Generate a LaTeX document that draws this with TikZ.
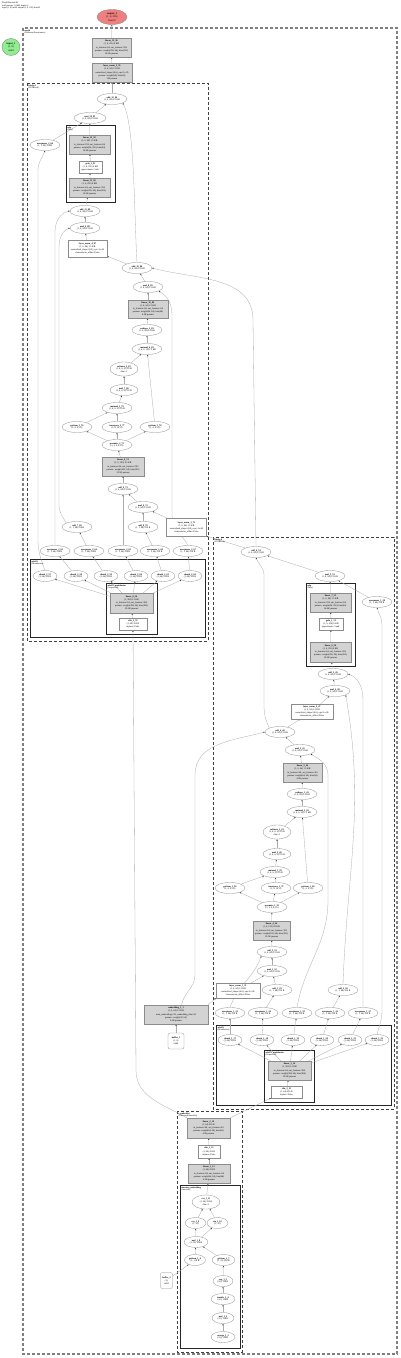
\documentclass[tikz,border=0pt]{standalone}
\usepackage{fontspec}
\setmainfont{Liberation Serif}
\usepackage{tikz}
\usetikzlibrary{arrows.meta,positioning,shapes.geometric,backgrounds}
\definecolor{clModule}{HTML}{D3D3D3}
\definecolor{clOutput}{HTML}{F08080}
\definecolor{clInput}{HTML}{90EE90}
\definecolor{clEdge}{HTML}{ABABAB}
\definecolor{clBorder}{HTML}{8C8C8C}
\tikzset{
  fn/.style={ellipse, draw=clBorder, line width=0.3pt, fill=white, align=center,
             inner sep=0pt, minimum width=30, minimum height=11, font=\fontsize{2.3}{2.8}\selectfont},
  fnthree/.style={fn, minimum height=14},
  chunkfn/.style={fn, minimum width=24},
  module/.style={rectangle, draw=clBorder, fill=clModule, line width=0.3pt, align=center,
                 inner sep=0.4pt, minimum width=41, minimum height=19, font=\fontsize{2.3}{3.1}\selectfont},
  opbox/.style={module, fill=white},
  endpoint/.style={ellipse, draw=clBorder, line width=0.4pt, align=center, inner sep=0pt,
                   font=\fontsize{2.6}{3.2}\selectfont},
  outergroup/.style={draw=gray, densely dashed, line width=1.1pt},
  blockgroup/.style={draw=black!75, densely dashed, line width=0.8pt},
  subgroup/.style={draw=black!85, line width=0.5pt},
  grouplabel/.style={anchor=north west, align=left, inner sep=0.4pt, font=\fontsize{2.2}{2.6}\selectfont},
  flow/.style={-{Stealth[length=1.7pt,width=1.3pt,color=black!80]}, draw=clEdge, line width=0.3pt},
}
\begin{document}
\begin{tikzpicture}[x=1pt, y=-1pt]
  \useasboundingbox (0,0) rectangle (400,1358);
  \node[grouplabel] (title) at (1.5,1.5) {TinyDiffusionLM\\total params: 0.14M, depth=2\\input (1, 6) int64, output (1, 6, 256) float32};

  \node[endpoint, fill=clOutput, minimum width=30, minimum height=15] (out) at (112,17) {\textbf{output\_1}\\(1, 6, 256)\\float32};
  \node[endpoint, fill=clInput, minimum width=18, minimum height=17] (inp) at (11,47) {\textbf{input\_1}\\(1, 6)\\int64};
  \node[module, minimum width=39] (head) at (111.5,47.5) {\textbf{linear\_13\_96}\\(1, 6, 256) 6 KB\\in\_features=64, out\_features=256\\params: weight(256, 64), bias(256)\\16.6K params};
  \node[module, minimum width=40] (headnorm) at (112,72.5) {\textbf{layer\_norm\_5\_95}\\(1, 6, 64) 1.5 KB\\normalized\_shape=(64,), eps=1e-05\\params: weight(64), bias(64)\\128 params};
  \node[grouplabel] (lblModel) at (24,29) {\textbf{model}\\(DiffusionTransformer)};

  % blocks.1
  \node[grouplabel] (lblU) at (28,84) {\textbf{blocks.1}\\(DiTBlock)};
  \node[fn] (uAdd) at (112,99) {\textbf{add\_12\_94}\\(1, 6, 64) 1.5 KB};
  \node[fn, minimum width=32] (uMulG) at (90,118) {\textbf{mul\_10\_93}\\(1, 6, 64) 1.5 KB};
  \node[fn] (uUnsG) at (45,145) {\textbf{unsqueeze\_2\_68}\\(1, 1, 64) 256 B};
  \node[grouplabel] (lblUMlp) at (67,126) {\textbf{mlp}\\(Mlp)};
  \node[module] (uFc2) at (89.5,144.5) {\textbf{linear\_12\_92}\\(1, 6, 64) 1.5 KB\\in\_features=256, out\_features=64\\params: weight(64, 256), bias(64)\\16.4K params};
  \node[opbox, minimum width=23, minimum height=12] (uGelu) at (90.5,167) {\textbf{gelu\_2\_91}\\(1, 6, 256) 6 KB\\approximate='tanh'};
  \node[module] (uFc1) at (89.5,187.5) {\textbf{linear\_11\_90}\\(1, 6, 256) 6 KB\\in\_features=64, out\_features=256\\params: weight(256, 64), bias(256)\\16.6K params};
  \node[fn] (uAddM2) at (85,211) {\textbf{add\_11\_89}\\(1, 6, 64) 1.5 KB};
  \node[fn] (uMulM2) at (85,228) {\textbf{mul\_9\_88}\\(1, 6, 64) 1.5 KB};
  \node[opbox, minimum width=39, minimum height=17] (uNorm2) at (87.5,248.5) {\textbf{layer\_norm\_4\_87}\\(1, 6, 64) 1.5 KB\\normalized\_shape=(64,), eps=1e-06\\elementwise\_affine=False};
  \node[fn] (uAddR) at (137,268) {\textbf{add\_10\_86}\\(1, 6, 64) 1.5 KB};
  \node[fn] (uMulG1) at (148,287) {\textbf{mul\_8\_85}\\(1, 6, 64) 1.5 KB};
  \node[module, minimum width=40, minimum height=18] (uProj) at (148,309) {\textbf{linear\_10\_84}\\(1, 6, 64) 1.5 KB\\in\_features=64, out\_features=64\\params: weight(64, 64), bias(64)\\4.2K params};
  \node[fn] (uReshape) at (147,330) {\textbf{reshape\_2\_83}\\(1, 6, 64) 1.5 KB};
  \node[fn] (uMatmul2) at (147,349) {\textbf{matmul\_4\_82}\\(1, 4, 6, 16) 1.5 KB};
  \node[fnthree, minimum width=28] (uSoftmax) at (124,369) {\textbf{softmax\_2\_81}\\(1, 4, 6, 6) 576 B\\dim=-1};
  \node[fn, minimum width=28] (uScale) at (124,390) {\textbf{mul\_7\_80}\\(1, 4, 6, 6) 576 B};
  \node[fn] (uMatmul) at (117,408) {\textbf{matmul\_3\_79}\\(1, 4, 6, 6) 576 B};
  \node[fn] (uQ) at (77,427) {\textbf{getitem\_2\_76}\\(1, 4, 6, 16)};
  \node[fn] (uK) at (117,427) {\textbf{transpose\_2\_77}\\(1, 4, 16, 6)};
  \node[fn] (uV) at (155,427) {\textbf{getitem\_2\_78}\\(1, 4, 6, 16)};
  \node[fn] (uPerm) at (117,445) {\textbf{permute\_2\_75}\\(3, 1, 4, 6, 16)};
  \node[module, minimum width=42] (uQkv) at (123,466.5) {\textbf{linear\_9\_74}\\(1, 6, 192) 4.5 KB\\in\_features=64, out\_features=192\\params: weight(192, 64), bias(192)\\12.5K params};
  \node[fn] (uAddM1) at (123,489) {\textbf{add\_9\_73}\\(1, 6, 64) 1.5 KB};
  \node[fn] (uMulM1) at (143,507) {\textbf{mul\_6\_72}\\(1, 6, 64) 1.5 KB};
  \node[fn] (uAddS2) at (77,527) {\textbf{add\_7\_69}\\(1, 1, 64) 256 B};
  \node[fn] (uAddS1) at (143,527) {\textbf{add\_8\_70}\\(1, 1, 64) 256 B};
  \node[opbox, minimum width=40, minimum height=18] (uNorm1) at (186.5,527) {\textbf{layer\_norm\_3\_71}\\(1, 6, 64) 1.5 KB\\normalized\_shape=(64,), eps=1e-06\\elementwise\_affine=False};
  \node[fn] (uU1) at (55,551) {\textbf{unsqueeze\_2\_63}\\(1, 1, 64) 256 B};
  \node[fn] (uU2) at (89,551) {\textbf{unsqueeze\_2\_64}\\(1, 1, 64) 256 B};
  \node[fn] (uU3) at (123,551) {\textbf{unsqueeze\_2\_65}\\(1, 1, 64) 256 B};
  \node[fn] (uU4) at (155,551) {\textbf{unsqueeze\_2\_66}\\(1, 1, 64) 256 B};
  \node[fn] (uU5) at (188,551) {\textbf{unsqueeze\_2\_67}\\(1, 1, 64) 256 B};
  \node[grouplabel] (lblUAda) at (31,560) {\textbf{adaLN}\\(Modulation)};
  \node[chunkfn] (uC1) at (45,576) {\textbf{chunk\_2\_57}\\(1, 64) 256 B};
  \node[chunkfn] (uC2) at (76,576) {\textbf{chunk\_2\_58}\\(1, 64) 256 B};
  \node[chunkfn] (uC3) at (106,576) {\textbf{chunk\_2\_59}\\(1, 64) 256 B};
  \node[chunkfn] (uC4) at (136,576) {\textbf{chunk\_2\_60}\\(1, 64) 256 B};
  \node[chunkfn] (uC5) at (163,576) {\textbf{chunk\_2\_61}\\(1, 64) 256 B};
  \node[chunkfn] (uC6) at (190,576) {\textbf{chunk\_2\_62}\\(1, 64) 256 B};
  \node[grouplabel] (lblUSeq) at (107,584) {\textbf{adaLN\_modulation}\\(Sequential)};
  \node[module, minimum width=43, minimum height=20] (uLin) at (131.5,603) {\textbf{linear\_8\_56}\\(1, 384) 1.5 KB\\in\_features=64, out\_features=384\\params: weight(384, 64), bias(384)\\25.0K params};
  \node[opbox, minimum width=28, minimum height=12] (uSilu) at (133,624) {\textbf{silu\_3\_55}\\(1, 64) 256 B\\inplace=False};

  % blocks.0
  \node[grouplabel] (lblL) at (214,538) {\textbf{blocks.0}\\(DiTBlock)};
  \node[fn] (lAdd) at (256,552) {\textbf{add\_6\_54}\\(1, 6, 64) 1.5 KB};
  \node[fn] (lMulG) at (330,576) {\textbf{mul\_5\_53}\\(1, 6, 64) 1.5 KB};
  \node[grouplabel] (lblLMlp) at (307,584) {\textbf{mlp}\\(Mlp)};
  \node[module] (lFc2) at (330.5,602.5) {\textbf{linear\_7\_52}\\(1, 6, 64) 1.5 KB\\in\_features=256, out\_features=64\\params: weight(64, 256), bias(64)\\16.4K params};
  \node[opbox, minimum width=24, minimum height=12] (lGelu) at (331,624) {\textbf{gelu\_1\_51}\\(1, 6, 256) 6 KB\\approximate='tanh'};
  \node[module, minimum height=20] (lFc1) at (330.5,652) {\textbf{linear\_6\_50}\\(1, 6, 256) 6 KB\\in\_features=64, out\_features=256\\params: weight(256, 64), bias(256)\\16.6K params};
  \node[fn] (lUnsG) at (377,602) {\textbf{unsqueeze\_1\_28}\\(1, 1, 64) 256 B};
  \node[fn] (lAddM2) at (333,674) {\textbf{add\_5\_49}\\(1, 6, 64) 1.5 KB};
  \node[fn] (lMulM2) at (335,691) {\textbf{mul\_4\_48}\\(1, 6, 64) 1.5 KB};
  \node[opbox, minimum width=42, minimum height=15] (lNorm2) at (312,711.5) {\textbf{layer\_norm\_2\_47}\\(1, 6, 64) 1.5 KB\\normalized\_shape=(64,), eps=1e-06\\elementwise\_affine=False};
  \node[fn] (lAddR) at (280,732) {\textbf{add\_4\_46}\\(1, 6, 64) 1.5 KB};
  \node[fn] (lMulG1) at (300,750) {\textbf{mul\_3\_45}\\(1, 6, 64) 1.5 KB};
  \node[module, minimum width=39] (lProj) at (302.5,772.5) {\textbf{linear\_5\_44}\\(1, 6, 64) 1.5 KB\\in\_features=64, out\_features=64\\params: weight(64, 64), bias(64)\\4.2K params};
  \node[fn] (lReshape) at (302,794) {\textbf{reshape\_1\_43}\\(1, 6, 64) 1.5 KB};
  \node[fn] (lMatmul2) at (302,812) {\textbf{matmul\_2\_42}\\(1, 4, 6, 16) 1.5 KB};
  \node[fnthree, minimum width=28] (lSoftmax) at (277,832) {\textbf{softmax\_1\_41}\\(1, 4, 6, 6) 576 B\\dim=-1};
  \node[fn, minimum width=28] (lScale) at (277,854) {\textbf{mul\_2\_40}\\(1, 4, 6, 6) 576 B};
  \node[fn] (lMatmul) at (275,872) {\textbf{matmul\_1\_39}\\(1, 4, 6, 6) 576 B};
  \node[fn] (lQ) at (230,888) {\textbf{getitem\_1\_36}\\(1, 4, 6, 16)};
  \node[fn] (lK) at (276,888) {\textbf{transpose\_1\_37}\\(1, 4, 16, 6)};
  \node[fn] (lV) at (308,888) {\textbf{getitem\_1\_38}\\(1, 4, 6, 16)};
  \node[fn] (lPerm) at (272,907) {\textbf{permute\_1\_35}\\(3, 1, 4, 6, 16)};
  \node[module, minimum width=37] (lQkv) at (271.5,930.5) {\textbf{linear\_4\_34}\\(1, 6, 192) 4.5 KB\\in\_features=64, out\_features=192\\params: weight(192, 64), bias(192)\\12.5K params};
  \node[fn] (lAddM1) at (272,952) {\textbf{add\_3\_33}\\(1, 6, 64) 1.5 KB};
  \node[fn] (lMulM1) at (272,971) {\textbf{mul\_1\_32}\\(1, 6, 64) 1.5 KB};
  \node[opbox, minimum width=44, minimum height=15] (lNorm1) at (238,990.5) {\textbf{layer\_norm\_1\_31}\\(1, 6, 64) 1.5 KB\\normalized\_shape=(64,), eps=1e-06\\elementwise\_affine=False};
  \node[fn] (lAddS1) at (277,990) {\textbf{add\_1\_29}\\(1, 1, 64) 256 B};
  \node[fn] (lAddS2) at (343,990) {\textbf{add\_2\_30}\\(1, 1, 64) 256 B};
  \node[fn] (lU1) at (230,1013) {\textbf{unsqueeze\_1\_23}\\(1, 1, 64) 256 B};
  \node[fn] (lU2) at (263,1013) {\textbf{unsqueeze\_1\_24}\\(1, 1, 64) 256 B};
  \node[fn] (lU3) at (297,1013) {\textbf{unsqueeze\_1\_25}\\(1, 1, 64) 256 B};
  \node[fn] (lU4) at (330,1013) {\textbf{unsqueeze\_1\_26}\\(1, 1, 64) 256 B};
  \node[fn] (lU5) at (363,1013) {\textbf{unsqueeze\_1\_27}\\(1, 1, 64) 256 B};
  \node[grouplabel] (lblLAda) at (217,1026) {\textbf{adaLN}\\(Modulation)};
  \node[chunkfn] (lC1) at (230,1040) {\textbf{chunk\_1\_17}\\(1, 64) 256 B};
  \node[chunkfn] (lC2) at (262,1040) {\textbf{chunk\_1\_18}\\(1, 64) 256 B};
  \node[chunkfn] (lC3) at (293,1040) {\textbf{chunk\_1\_19}\\(1, 64) 256 B};
  \node[chunkfn] (lC4) at (322,1040) {\textbf{chunk\_1\_20}\\(1, 64) 256 B};
  \node[chunkfn] (lC5) at (350,1040) {\textbf{chunk\_1\_21}\\(1, 64) 256 B};
  \node[chunkfn] (lC6) at (377,1040) {\textbf{chunk\_1\_22}\\(1, 64) 256 B};
  \node[grouplabel] (lblLSeq) at (265,1051) {\textbf{adaLN\_modulation}\\(Sequential)};
  \node[module, minimum width=43] (lLin) at (289.5,1070.5) {\textbf{linear\_3\_16}\\(1, 384) 1.5 KB\\in\_features=64, out\_features=384\\params: weight(384, 64), bias(384)\\25.0K params};
  \node[opbox, minimum width=31, minimum height=12] (lSilu) at (286.5,1092) {\textbf{silu\_2\_15}\\(1, 64) 256 B\\inplace=False};

  % embedding and timestep branch
  \node[module, minimum width=64] (emb) at (176,1014.5) {\textbf{embedding\_1\_1}\\(1, 6, 64) 1.5 KB\\num\_embeddings=32, embedding\_dim=64\\params: weight(32, 64)\\2.0K params};
  \node[opbox, rounded corners=2pt, minimum width=16, minimum height=16] (buf) at (176,1041) {\textbf{buffer\_1}\\(1, 6)\\int64};
  \node[grouplabel] (lblT) at (178,1112) {\textbf{t\_embedder}\\(TimestepEmbedder)};
  \node[module, minimum width=43, minimum height=20] (tLin2) at (208.5,1128) {\textbf{linear\_2\_14}\\(1, 64) 256 B\\in\_features=64, out\_features=64\\params: weight(64, 64), bias(64)\\4.2K params};
  \node[opbox, minimum width=22, minimum height=13] (tSilu) at (209,1151.5) {\textbf{silu\_1\_13}\\(1, 64) 256 B\\inplace=False};
  \node[module, minimum width=42] (tLin1) at (209,1173.5) {\textbf{linear\_1\_12}\\(1, 64) 256 B\\in\_features=64, out\_features=64\\params: weight(64, 64), bias(64)\\4.2K params};
  \node[grouplabel] (lblTSin) at (181,1186) {\textbf{timestep\_embedding}\\(function)};
  \node[fnthree, minimum width=28] (tCat) at (206,1202) {\textbf{cat\_1\_11}\\(1, 64) 256 B\\dim=-1};
  \node[fn, minimum width=21] (tCos) at (195.5,1223) {\textbf{cos\_1\_9}\\(1, 32)};
  \node[fn, minimum width=21] (tSin) at (217.5,1223) {\textbf{sin\_1\_10}\\(1, 32)};
  \node[fn, minimum width=24] (tMul) at (196,1242) {\textbf{mul\_1\_8}\\(1, 32) 128 B};
  \node[fn, minimum width=21] (tGetA) at (195,1260) {\textbf{getitem\_1\_6}\\(1, 1) 4 B};
  \node[fn, minimum width=23] (tGetB) at (223.5,1260) {\textbf{getitem\_1\_7}\\(1, 32) 128 B};
  \node[fn, minimum width=20] (tExp) at (223,1281) {\textbf{exp\_1\_5}\\(32,) 128 B};
  \node[fn, minimum width=24] (tDiv) at (223,1299) {\textbf{truediv\_1\_4}\\(32,) 128 B};
  \node[fn, minimum width=22] (tMulc) at (223,1318) {\textbf{mul\_1\_3}\\(32,) 128 B};
  \node[fn, minimum width=24] (tArange) at (223,1337) {\textbf{arange\_1\_2}\\(32,) 128 B};
  \node[opbox, rounded corners=2pt, minimum width=12, minimum height=16] (tBuf) at (166.5,1280.5) {\textbf{buffer\_2}\\(1,)\\int64};

  \begin{scope}[on background layer]
    \draw[outergroup] (23,28) rectangle (397,1354);
    \draw[blockgroup] (27,83) rectangle (208,641);
    \draw[subgroup] (66,125) rectangle (115,202);
    \draw[subgroup] (30,559) rectangle (205,637);
    \draw[subgroup] (106,583) rectangle (157,634);
    \draw[blockgroup] (213,537) rectangle (394,1109);
    \draw[subgroup] (306,583) rectangle (355,666);
    \draw[subgroup] (216,1025) rectangle (391,1105);
    \draw[subgroup] (264,1050) rectangle (314,1102);
    \draw[blockgroup] (177,1111) rectangle (242,1352);
    \draw[subgroup] (180,1185) rectangle (240,1348);

    \draw[flow] (head) -- (out); \draw[flow] (headnorm) -- (head); \draw[flow] (uAdd) -- (headnorm);
    \draw[flow] (uMulG) -- (uAdd); \draw[flow] (uUnsG) -- (uMulG); \draw[flow] (uFc2) -- (uMulG);
    \draw[flow] (uGelu) -- (uFc2); \draw[flow] (uFc1) -- (uGelu); \draw[flow] (uAddM2) -- (uFc1);
    \draw[flow] (uMulM2) -- (uAddM2); \draw[flow] (uNorm2) -- (uMulM2); \draw[flow] (uAddR) -- (uNorm2);
    \draw[flow] (uMulG1) -- (uAddR); \draw[flow] (uProj) -- (uMulG1); \draw[flow] (uReshape) -- (uProj);
    \draw[flow] (uMatmul2) -- (uReshape); \draw[flow] (uSoftmax) -- (uMatmul2); \draw[flow] (uV) -- (uMatmul2);
    \draw[flow] (uScale) -- (uSoftmax); \draw[flow] (uMatmul) -- (uScale);
    \draw[flow] (uQ) -- (uMatmul); \draw[flow] (uK) -- (uMatmul);
    \draw[flow] (uPerm) -- (uQ); \draw[flow] (uPerm) -- (uK); \draw[flow] (uPerm) -- (uV);
    \draw[flow] (uQkv) -- (uPerm); \draw[flow] (uAddM1) -- (uQkv); \draw[flow] (uMulM1) -- (uAddM1);
    \draw[flow] (uNorm1) -- (uMulM1); \draw[flow] (uAddS1) -- (uMulM1);
    \draw[flow] (uU2) -- (uAddS2); \draw[flow] (uU3) -- (uAddM1); \draw[flow] (uU4) -- (uAddS1);
    \draw[flow] (uC2) -- (uU1); \draw[flow] (uC3) -- (uU2); \draw[flow] (uC4) -- (uU3);
    \draw[flow] (uC5) -- (uU4); \draw[flow] (uC6) -- (uU5);
    \foreach \c in {uC1,uC2,uC3,uC4,uC5,uC6} \draw[flow] (uLin) -- (\c);
    \draw[flow] (uSilu) -- (uLin);
    \draw[flow] (uAddR.north) .. controls (134,215) and (135,125) .. (uAdd.south east);
    \draw[flow] (lAdd.north) -- (253,320) to[out=90,in=-15] (uAddR.east);
    \draw[flow] (lAdd.north west) -- (uNorm1.south east);
    \draw[flow] (uU1.north) -- (55,232) to[out=90,in=190] (uAddM2.west);
    \draw[flow] (uAddS2.north west) to[out=120,in=-90] (59,505) -- (59,248) to[out=90,in=200] (uMulM2.west);
    \draw[flow] (uC1.north) to[out=110,in=-90] (38,540) -- (38,170) to[out=90,in=-110] (uUnsG.south);
    \draw[flow] (uU5.north) to[out=120,in=-90] (172,515) -- (172,315) to[out=90,in=-30] (uMulG1.south east);
    \draw[flow] (tLin2.north west) to[out=150,in=-90] (136,1070) -- (uSilu.south);

    \draw[flow] (lMulG) -- (lAdd); \draw[flow] (lUnsG) -- (lMulG); \draw[flow] (lFc2) -- (lMulG);
    \draw[flow] (lGelu) -- (lFc2); \draw[flow] (lFc1) -- (lGelu); \draw[flow] (lAddM2) -- (lFc1);
    \draw[flow] (lMulM2) -- (lAddM2); \draw[flow] (lNorm2) -- (lMulM2); \draw[flow] (lAddR) -- (lNorm2);
    \draw[flow] (lMulG1) -- (lAddR); \draw[flow] (lProj) -- (lMulG1); \draw[flow] (lReshape) -- (lProj);
    \draw[flow] (lMatmul2) -- (lReshape); \draw[flow] (lSoftmax) -- (lMatmul2); \draw[flow] (lV) -- (lMatmul2);
    \draw[flow] (lScale) -- (lSoftmax); \draw[flow] (lMatmul) -- (lScale);
    \draw[flow] (lQ) -- (lMatmul); \draw[flow] (lK) -- (lMatmul);
    \draw[flow] (lPerm) -- (lQ); \draw[flow] (lPerm) -- (lK); \draw[flow] (lPerm) -- (lV);
    \draw[flow] (lQkv) -- (lPerm); \draw[flow] (lAddM1) -- (lQkv); \draw[flow] (lMulM1) -- (lAddM1);
    \draw[flow] (lNorm1) -- (lMulM1); \draw[flow] (lAddS1) -- (lMulM1);
    \draw[flow] (lU2) -- (lAddS1); \draw[flow] (lU4) -- (lAddS2);
    \draw[flow] (lC1) -- (lU1); \draw[flow] (lC2) -- (lU2); \draw[flow] (lC3) -- (lU3);
    \draw[flow] (lC4) -- (lU4); \draw[flow] (lC5) -- (lU5);
    \foreach \c in {lC1,lC2,lC3,lC4,lC5,lC6} \draw[flow] (lLin) -- (\c);
    \draw[flow] (lSilu) -- (lLin);
    \draw[flow] (lAddR.north west) to[out=115,in=-90] (264,705) -- (264,575) to[out=90,in=-70] (lAdd.south);
    \draw[flow] (lU1.north) to[out=70,in=-110] (lAddM1.south west);
    \draw[flow] (lU3.north) to[out=80,in=-90] (328,900) -- (328,775) to[out=90,in=-30] (lMulG1.south east);
    \draw[flow] (lAddS2.north) to[out=88,in=-80] (lMulM2.south east);
    \draw[flow] (lU5.north) -- (363,700) to[out=90,in=-20] (lAddM2.east);
    \draw[flow] (lC6.north) to[out=75,in=-90] (382,1010) -- (382,625) to[out=90,in=-75] (lUnsG.south);
    \draw[flow] (emb.60) to[out=80,in=-90] (195,975) -- (195,775) to[out=90,in=195] (lAddR.west);
    \draw[flow] (emb.north east) -- (lNorm1.south west);
    \draw[flow] (buf) -- (emb);

    \draw[flow] (tArange) -- (tMulc); \draw[flow] (tMulc) -- (tDiv); \draw[flow] (tDiv) -- (tExp);
    \draw[flow] (tExp) -- (tGetB); \draw[flow] (tGetB) -- (tMul); \draw[flow] (tBuf) -- (tGetA);
    \draw[flow] (tGetA) -- (tMul); \draw[flow] (tMul) -- (tCos); \draw[flow] (tMul) -- (tSin);
    \draw[flow] (tCos) -- (tCat); \draw[flow] (tSin) -- (tCat); \draw[flow] (tCat) -- (tLin1);
    \draw[flow] (tLin1) -- (tSilu); \draw[flow] (tSilu) -- (tLin2);
    \draw[flow] (tLin2.north east) -- (lSilu.south west);
  \end{scope}
\end{tikzpicture}
\end{document}
